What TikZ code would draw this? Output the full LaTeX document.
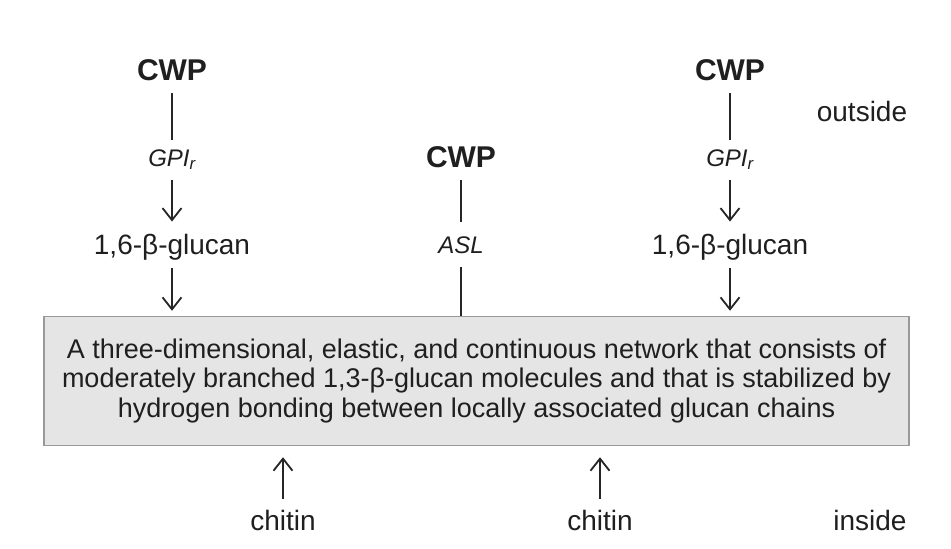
\documentclass[tikz,border=0pt]{standalone}
\usepackage{fontspec}
\setmainfont{Liberation Sans}
\usetikzlibrary{arrows.meta}
\begin{document}
\begin{tikzpicture}[x=1pt,y=-1pt,
  lbl/.style={inner sep=0pt,anchor=base,font=\fontsize{28}{32}\selectfont,text=black!88},
  bold/.style={lbl,font=\fontsize{30}{34}\selectfont\bfseries},
  ital/.style={lbl,font=\fontsize{24}{28}\selectfont\itshape},
  conn/.style={line width=1.8pt,draw=black!85},
  arr/.style={conn,-{Straight Barb[length=12pt,width=19pt,line width=1.8pt]}},
  netbox/.style={draw=black!40,line width=1.5pt,fill=black!10,minimum width=865pt,minimum height=129pt,inner sep=0pt,align=center,font=\fontsize{27}{29.5}\selectfont,text=black!88}]
\useasboundingbox (0,0) rectangle (951,549);
\fill[white] (0,0) rectangle (951,549);
% left column
\node[bold] (cwpL) at (172,80) {CWP};
\node[ital] (gpiL) at (172,166) {GPI\textsubscript{r}};
\node[lbl] (gluL) at (172,254) {1,6-β-glucan};
% middle column
\node[bold] (cwpM) at (461,167) {CWP};
\node[ital] (aslM) at (461,253) {ASL};
% right column
\node[bold] (cwpR) at (730,80) {CWP};
\node[ital] (gpiR) at (730,166) {GPI\textsubscript{r}};
\node[lbl] (gluR) at (730,254) {1,6-β-glucan};
% labels
\node[lbl] (outside) at (862,121) {outside};
\node[lbl] (inside) at (870,530) {inside};
% box
\node[netbox] (box) at (476.5,381) {A three-dimensional, elastic, and continuous network that consists of\\moderately branched 1,3-β-glucan molecules and that is stabilized by\\hydrogen bonding between locally associated glucan chains};
% chitin
\node[lbl] (chiL) at (283,530) {chitin};
\node[lbl] (chiR) at (600,530) {chitin};
% connectors
\draw[conn,shorten <=13pt,shorten >=9pt] (cwpL.south) -- (gpiL.north);
\draw[arr,shorten <=10pt,shorten >=12pt] (gpiL.south) -- (gluL.north);
\draw[arr,shorten <=8pt,shorten >=5pt] (gluL.south) -- (gluL.south |- box.north);
\draw[conn,shorten <=13pt,shorten >=9pt] (cwpR.south) -- (gpiR.north);
\draw[arr,shorten <=10pt,shorten >=12pt] (gpiR.south) -- (gluR.north);
\draw[arr,shorten <=8pt,shorten >=5pt] (gluR.south) -- (gluR.south |- box.north);
\draw[conn,shorten <=13pt,shorten >=14pt] (cwpM.south) -- (aslM.north);
\draw[conn,shorten <=14pt] (aslM.south) -- (aslM.south |- box.north);
\draw[arr,shorten <=11pt,shorten >=11pt] (chiL.north) -- (chiL.north |- box.south);
\draw[arr,shorten <=11pt,shorten >=11pt] (chiR.north) -- (chiR.north |- box.south);
\end{tikzpicture}
\end{document}
